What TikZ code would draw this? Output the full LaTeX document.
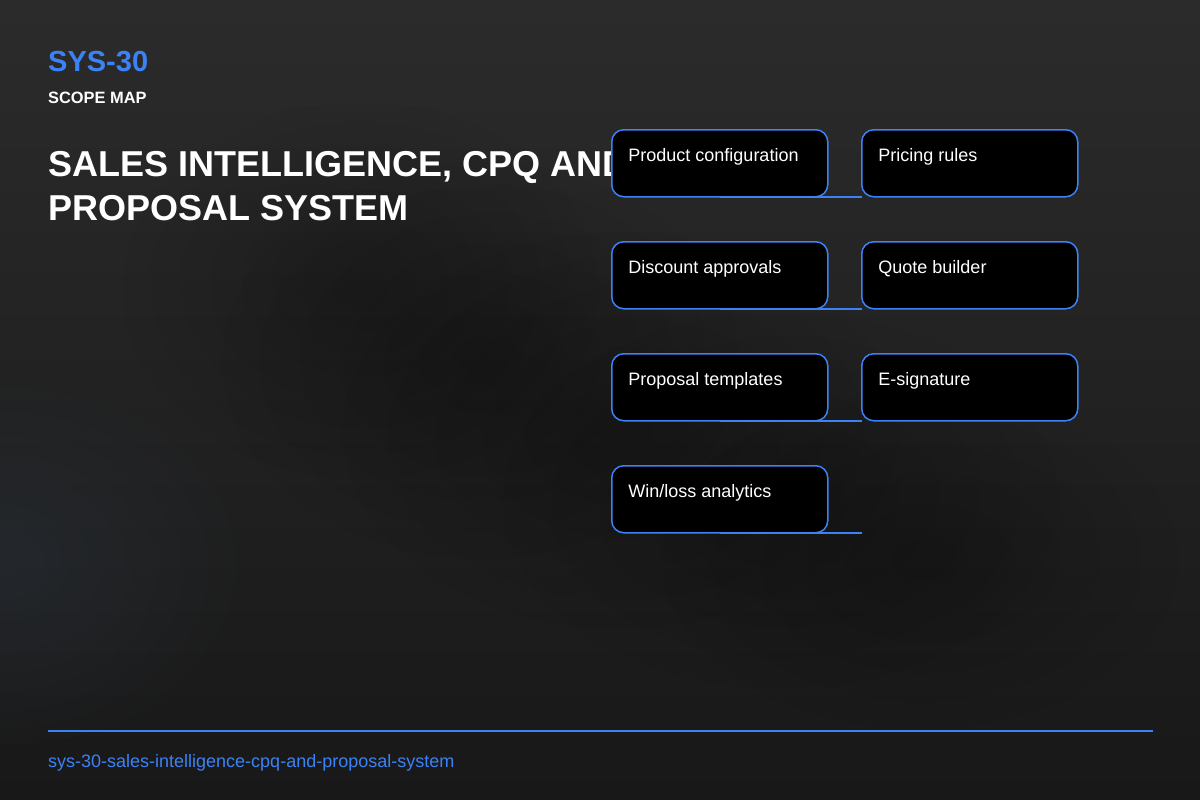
\documentclass[tikz,border=0pt]{standalone}
\usepackage{fontspec}
\setmainfont{Liberation Sans}
\usetikzlibrary{positioning,fadings}
\definecolor{accent}{RGB}{59,130,246}
\definecolor{bgtop}{RGB}{43,43,43}
\definecolor{bgbot}{RGB}{24,24,24}
\definecolor{haze}{RGB}{40,46,54}
\tikzfading[name=softfade, inner color=transparent!0, outer color=transparent!100]

\begin{document}
\begin{tikzpicture}[x=1pt, y=-1pt,
    box/.style={draw=accent, line width=1.5pt, fill=black, rounded corners=12pt,
      minimum width=216pt, minimum height=67pt, inner sep=0pt, outer sep=0pt, anchor=north west},
    boxtext/.style={anchor=base west, inner sep=0pt, text=white, font=\fontsize{18}{22}\selectfont},
    link/.style={draw=accent, line width=2pt},
    shadow/.style={black, opacity=0.22, path fading=softfade}]
  % background
  \useasboundingbox (0,0) rectangle (1200,800);
  \shade[top color=bgtop, bottom color=bgbot] (0,0) rectangle (1200,800);
  \fill[haze, opacity=0.6, path fading=softfade] (0,560) ellipse (260 and 200);
  \fill[shadow] (360,290) ellipse (240 and 190);
  \fill[shadow] (480,360) ellipse (260 and 200);
  \fill[shadow] (620,430) ellipse (280 and 200);
  \fill[shadow] (780,500) ellipse (280 and 190);
  \fill[shadow] (920,560) ellipse (260 and 170);

  % heading
  \node[anchor=base west, inner sep=0pt, text=accent, font=\bfseries\fontsize{29}{34}\selectfont] (code) at (48,72) {SYS-30};
  \node[anchor=base west, inner sep=0pt, text=white, font=\bfseries\fontsize{16.4}{20}\selectfont] (kind) at (48,103) {SCOPE MAP};
  \node[anchor=base west, inner sep=0pt, text=white, font=\bfseries\fontsize{36}{44}\selectfont] (title1) at (48,176) {SALES INTELLIGENCE, CPQ AND};
  \node[anchor=base west, inner sep=0pt, text=white, font=\bfseries\fontsize{36}{44}\selectfont] (title2) at (48,220) {PROPOSAL SYSTEM};

  % scope boxes
  \node[box] (conf) at (611.75,129.75) {};
  \node[box] (pric) at (861.75,129.75) {};
  \node[box] (disc) at (611.75,241.75) {};
  \node[box] (quot) at (861.75,241.75) {};
  \node[box] (prop) at (611.75,353.75) {};
  \node[box] (esig) at (861.75,353.75) {};
  \node[box] (winl) at (611.75,465.75) {};

  \node[boxtext] (conft) at ([shift={(16.5,31.5)}]conf.north west) {Product configuration};
  \node[boxtext] (prict) at ([shift={(16.5,31.5)}]pric.north west) {Pricing rules};
  \node[boxtext] (disct) at ([shift={(16.5,31.5)}]disc.north west) {Discount approvals};
  \node[boxtext] (quott) at ([shift={(16.5,31.5)}]quot.north west) {Quote builder};
  \node[boxtext] (propt) at ([shift={(16.5,31.5)}]prop.north west) {Proposal templates};
  \node[boxtext] (esigt) at ([shift={(16.5,31.5)}]esig.north west) {E-signature};
  \node[boxtext] (winlt) at ([shift={(16.5,31.5)}]winl.north west) {Win/loss analytics};

  \draw[link] (conf.south) -- (conf.south -| pric.west);
  \draw[link] (disc.south) -- (disc.south -| quot.west);
  \draw[link] (prop.south) -- (prop.south -| esig.west);
  \draw[link] (winl.south) -- (winl.south -| esig.west);

  % footer
  \coordinate (rulea) at (48,731);
  \coordinate (ruleb) at (1153,731);
  \draw[accent, line width=2pt] (rulea) -- (ruleb);
  \node[anchor=base west, inner sep=0pt, text=accent, font=\fontsize{18}{22}\selectfont] (slug) at (48,767) {sys-30-sales-intelligence-cpq-and-proposal-system};
\end{tikzpicture}
\end{document}
